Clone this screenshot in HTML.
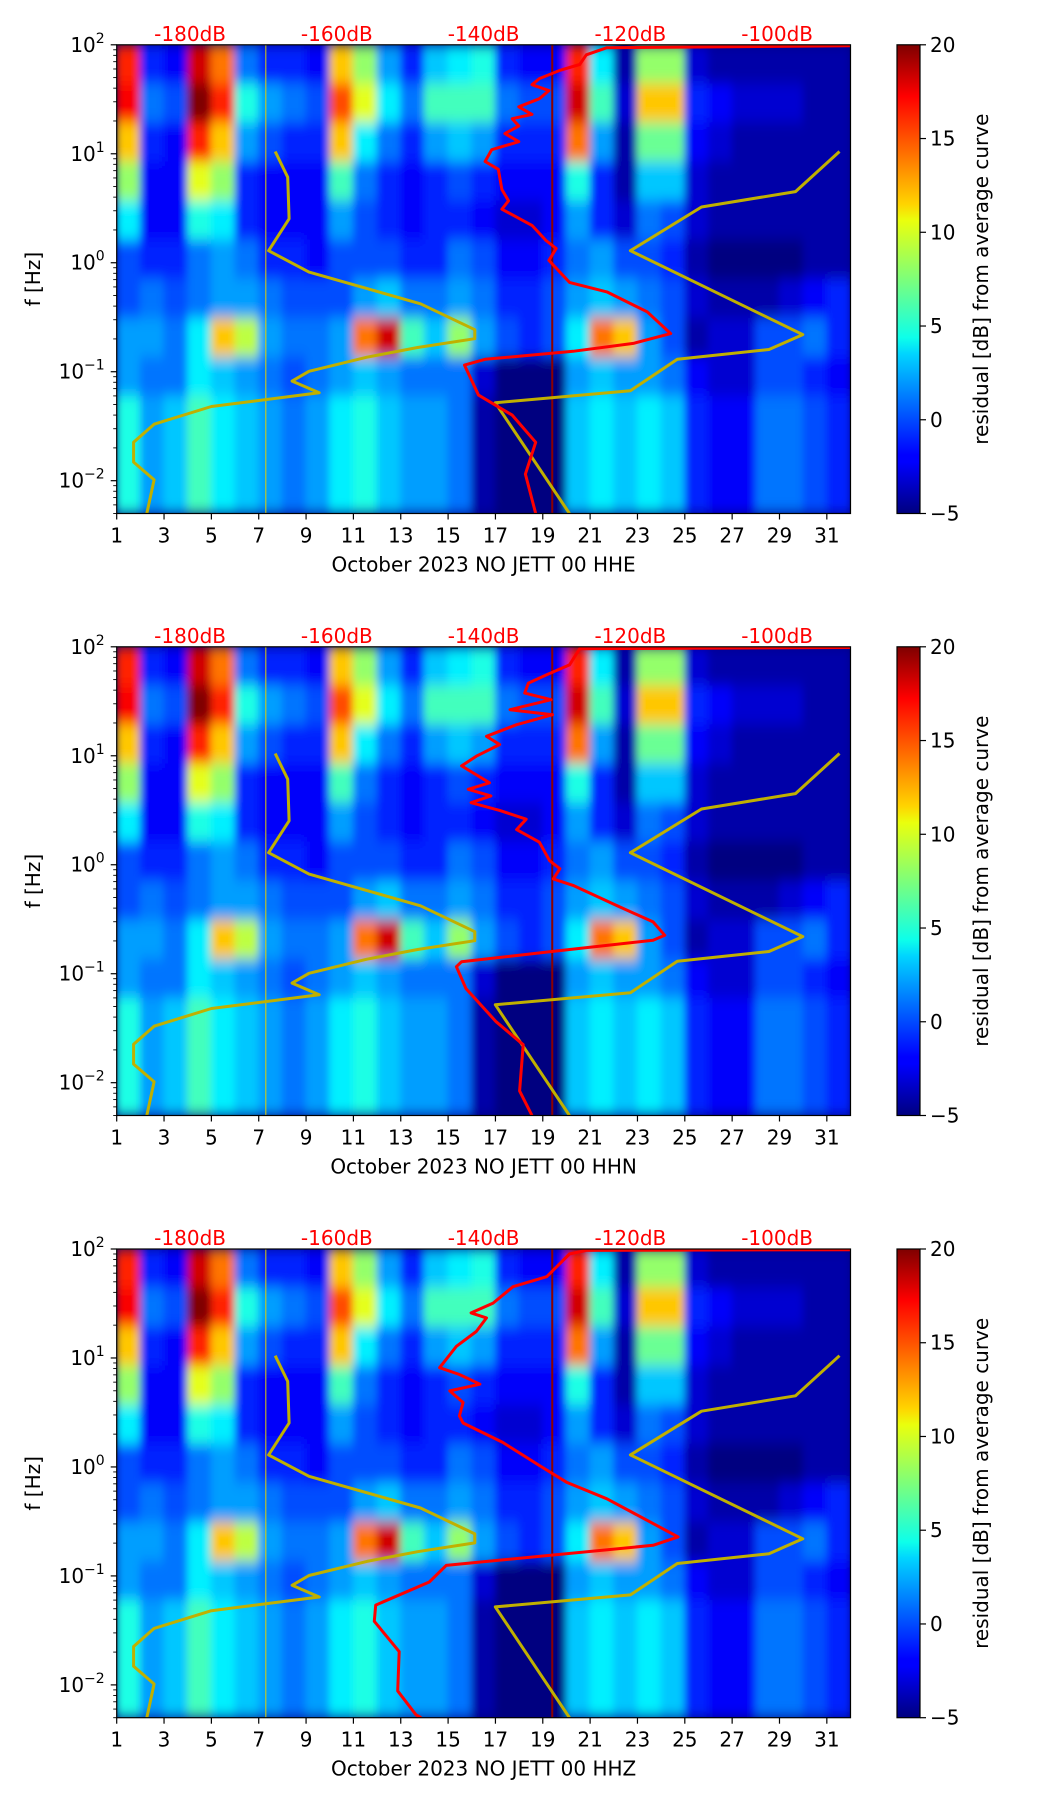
<!DOCTYPE html>
<html><head><meta charset="utf-8">
<style>
html,body{margin:0;padding:0;background:#fff;}
svg{display:block;font-family:"DejaVu Sans","Liberation Sans",sans-serif;}
</style></head>
<body>
<svg id="fig" width="1052" height="1806" viewBox="0 0 1052 1806" xmlns="http://www.w3.org/2000/svg">
<defs>
<linearGradient id="jet" x1="0" y1="1" x2="0" y2="0">
<stop offset="0" stop-color="#00007f"/><stop offset="0.11" stop-color="#0000ff"/><stop offset="0.125" stop-color="#0000ff"/>
<stop offset="0.34" stop-color="#00d4ff"/><stop offset="0.375" stop-color="#0dffea"/><stop offset="0.5" stop-color="#7dff7a"/>
<stop offset="0.625" stop-color="#eaff0d"/><stop offset="0.66" stop-color="#ffd400"/><stop offset="0.89" stop-color="#ff0000"/>
<stop offset="1" stop-color="#7f0000"/>
</linearGradient>
<filter id="blur" x="-5%" y="-5%" width="110%" height="110%"><feGaussianBlur stdDeviation="4 7"/></filter>
</defs>
</svg>
<script>
// ---- data ----
const days=[1,3,5,7,9,11,13,15,17,19,21,23,25,27,29,31];
const dbTicks=[-180,-160,-140,-120,-100];
const cbTicks=[20,15,10,5,0,-5];
const decades=[2,1,0,-1,-2];
const chanNames=["October 2023 NO JETT 00 HHE","October 2023 NO JETT 00 HHN","October 2023 NO JETT 00 HHZ"];
// heatmap: 12 log-frequency bands (100 Hz down to 0.005 Hz) x 31 day columns, residual dB
const heatR0=[16,-1,-2,18,14,1,-1,-1,-2,12,8,2,-1,3,4,5,-1,-2,-2,16,4,-4,8,8,-3,-4,-4,-4,-4,-4,-4];
const heatR1=[17,1,0,20,16,5,2,1,0,15,10,4,1,6,6,6,1,0,0,18,6,-3,12,12,-1,-2,-3,-3,-3,-4,-4];
const heatR2=[12,-1,-2,16,12,2,0,-1,-1,12,4,1,-1,2,3,2,-1,-1,-1,14,2,-4,7,7,-2,-3,-4,-4,-4,-4,-4];
const heatR3=[8,-2,-2,10,8,-1,-2,-2,-2,6,1,-1,-2,-1,0,-1,-2,-2,-2,5,-1,-4,3,3,-3,-4,-4,-4,-4,-4,-4];
const heatR4=[4,-2,-2,5,4,-1,-2,-2,-2,2,0,-1,-2,-1,-1,-2,-3,-3,-2,2,-1,-3,1,0,-3,-4,-4,-4,-4,-4,-4];
const heatR5=[0,-1,-1,1,2,1,-1,-1,-2,0,0,0,-1,-1,1,0,-2,-2,-1,1,2,0,0,-1,-4,-5,-5,-5,-5,-4,-4];
const heatR6=[0,1,0,1,2,2,1,0,0,0,2,3,1,1,2,1,-1,-1,0,2,3,2,1,0,-3,-4,-4,-4,-3,-2,-1];
const heatR7=[2,2,1,4,12,9,2,1,1,2,14,18,6,3,8,2,0,-1,0,4,14,12,2,0,-4,-3,-3,0,0,1,-1];
const heatR8=[2,1,1,4,3,2,1,0,1,2,3,2,1,1,1,-3,-5,-5,-5,2,3,2,2,1,-2,-3,-3,0,0,-1,-2];
const heatR9=[5,2,3,6,4,3,2,1,2,4,5,3,2,2,1,-4,-5,-5,-5,3,4,3,4,3,-1,-2,-2,1,1,0,-1];
const heatR10=[5,2,3,6,4,3,2,1,2,4,5,3,2,2,1,-4,-5,-5,-5,3,4,3,4,3,-1,-2,-2,1,1,0,-1];
const heatR11=[5,2,3,6,4,3,2,1,2,4,5,3,2,2,1,-4,-5,-5,-5,3,4,3,4,3,-1,-2,-2,1,1,0,-1];
const heatRows=[heatR0,heatR1,heatR2,heatR3,heatR4,heatR5,heatR6,heatR7,heatR8,heatR9,heatR10,heatR11];
// red PSD curves (dB, Hz)
const red1Db=[-90,-123.2,-126,-126.9,-129.7,-132.4,-133.4,-131.1,-132.4,-135.2,-133.4,-136.1,-135.2,-137.1,-135.2,-138.9,-139.8,-138,-137.5,-136.6,-137.5,-133.4,-131.5,-130.1,-131.1,-128.3,-123.2,-117.7,-114.5,-119.6,-127.8,-139.8,-142.6,-140.7,-136.1,-132.9,-134.3,-132.9];
const red1F=[98,94,81,66,58,49,43,38,32,27,23,21,18,15.3,12.9,10.9,8.5,7.2,4.7,3.7,3.1,2.2,1.6,1.35,1.05,0.66,0.54,0.355,0.224,0.182,0.154,0.13,0.115,0.061,0.04,0.0225,0.0115,0.005];
const red2Db=[-90,-126.9,-128.3,-131.4,-133.9,-134.4,-130.8,-136.4,-130.6,-135.5,-139.6,-137.8,-141,-143,-139.2,-142.1,-139,-141.7,-137.8,-134.2,-135.5,-132.4,-131,-129.6,-130.5,-127.8,-121.9,-116.9,-115.3,-116.9,-131,-143,-143.7,-142.4,-138.3,-134.6,-135.1,-133.4];
const red2F=[98.5,96,68.2,55.3,46.4,37.6,32.7,26.5,23.8,19.3,15.1,12.7,9.9,8.07,5.65,4.92,4.28,3.71,3.15,2.62,2.1,1.61,1.09,0.92,0.742,0.646,0.424,0.299,0.225,0.203,0.159,0.129,0.116,0.073,0.0363,0.0223,0.0084,0.005];
const red3Db=[-90,-126,-128.3,-131.4,-136,-138.7,-141.7,-139.6,-141,-143.7,-146,-143.3,-140.5,-144.6,-142.8,-143.3,-142.8,-137.4,-132.4,-128.7,-123.2,-113.5,-116.9,-145.1,-147.4,-154.7,-154.9,-151.5,-151.7,-149.2,-148.5];
const red3F=[98.5,97,90,55.7,45.1,31.9,25.9,23.3,17.5,12.8,8.14,7.05,5.75,4.99,3.9,2.94,2.53,1.68,1.03,0.725,0.51,0.228,0.191,0.125,0.088,0.054,0.0383,0.0202,0.0088,0.0053,0.005];
const redDb=[red1Db,red2Db,red3Db];
const redF=[red1F,red2F,red3F];
// yellow noise-model curves (dB, Hz)
const lowDb=[-168.4,-166.7,-166.5,-169.3,-163.8,-148.6,-141.2,-141.2,-149,-155.9,-163.8,-166.1,-162.4,-177.1,-184.9,-187.7,-187.7,-184.9,-185.9];
const lowF=[10.5,6.1,2.53,1.29,0.82,0.42,0.243,0.201,0.167,0.136,0.101,0.082,0.064,0.048,0.033,0.0225,0.0148,0.0102,0.005];
const highDb=[-91.5,-97.5,-110.3,-120,-96.5,-101.1,-113.6,-120,-138.4,-128.3];
const highF=[10.5,4.5,3.25,1.29,0.219,0.16,0.13,0.067,0.052,0.005];
const markDays=[7.3,19.4];

// ---- layout ----
const NS="http://www.w3.org/2000/svg";
const svg=document.getElementById('fig');
const L=116.7,R=850.5,W=R-L,H=468.7,tops=[44.8,646.8,1249];
const CBL=897,CBW=23;
const LOGMAX=2,LOGMIN=Math.log10(0.005);
function el(tag,attrs,parent){const e=document.createElementNS(NS,tag);for(const k in attrs)e.setAttribute(k,attrs[k]);(parent||svg).appendChild(e);return e;}
function xDay(d){return L+(d-1)/31*W;}
function xDb(db){return L+(db+190)/100*W;}
function yF(f,top){return top+(LOGMAX-Math.log10(f))/(LOGMAX-LOGMIN)*H;}
function yLog(lg,top){return top+(LOGMAX-lg)/(LOGMAX-LOGMIN)*H;}
function jet(v){let t=(v+5)/25;t=Math.max(0,Math.min(1,t));
 const c=x=>Math.round(255*Math.max(0,Math.min(1,x)));
 return `rgb(${c(1.5-Math.abs(4*t-3))},${c(1.5-Math.abs(4*t-2))},${c(1.5-Math.abs(4*t-1))})`;}

tops.forEach((top,p)=>{
 const g=el('g',{});
 
 
 const cid='clip'+p;
 const cp=el('clipPath',{id:cid},g);el('rect',{x:L,y:top,width:W,height:H},cp);
 const plot=el('g',{'clip-path':`url(#${cid})`},g);
 
 
 el('rect',{x:L,y:top,width:W,height:H,fill:'#00007f'},plot);
 const hg=el('g',{filter:'url(#blur)'},plot);
 const rh=H/heatRows.length,cw=W/31;
 heatRows.forEach((row,i)=>{row.forEach((v,j)=>{
   const r=el('rect',{x:L+j*cw-0.5,y:top+i*rh-0.5,width:cw+1,height:rh+1,fill:jet(v)},hg);
   
   
 });});
 markDays.forEach((d,i)=>{
   const ln=el('line',{x1:xDay(d),x2:xDay(d),y1:top,y2:top+H,stroke:i?'#8b0000':'#e0d000','stroke-width':i?2:1},plot);
   
   
 });
 const pts=(dbs,fs)=>dbs.map((d,i)=>xDb(d).toFixed(1)+','+yF(fs[i],top).toFixed(1)).join(' ');
 const lo=el('polyline',{points:pts(lowDb,lowF),fill:'none',stroke:'#c0b000','stroke-width':3,'stroke-linejoin':'round'},plot);
 
 
 const hi=el('polyline',{points:pts(highDb,highF),fill:'none',stroke:'#c0b000','stroke-width':3,'stroke-linejoin':'round'},plot);
 
 
 const rd=el('polyline',{points:pts(redDb[p],redF[p]),fill:'none',stroke:'#ff0000','stroke-width':3,'stroke-linejoin':'round'},plot);
 
 
 el('rect',{x:L,y:top,width:W,height:H,fill:'none',stroke:'#000','stroke-width':1.2},g);
 days.forEach(d=>{
   const x=xDay(d);
   el('line',{x1:x,x2:x,y1:top+H,y2:top+H+6,stroke:'#000','stroke-width':1.2},g);
   const t=el('text',{x:x,y:top+H+29,'font-size':20,'text-anchor':'middle',fill:'#000'},g);t.textContent=d;
   
   
 });
 const xl=el('text',{x:(L+R)/2,y:top+H+58,'font-size':20,'text-anchor':'middle',fill:'#000'},g);xl.textContent=chanNames[p];
 
 
 decades.forEach(dc=>{
   const y=yLog(dc,top);
   el('line',{x1:L-6,x2:L,y1:y,y2:y,stroke:'#000','stroke-width':1.2},g);
   const t=el('text',{x:L-12,y:y+7,'font-size':20,'text-anchor':'end',fill:'#000'},g);
   
   
   const a=el('tspan',{},t);a.textContent='10';
   const b=el('tspan',{dy:-9,'font-size':14},t);b.textContent=dc<0?'\u2212'+(-dc):String(dc);
   for(let m=2;m<=9;m++){const lg=dc-1+Math.log10(m);if(lg>=LOGMIN){const ym=yLog(lg,top);el('line',{x1:L-3.5,x2:L,y1:ym,y2:ym,stroke:'#000','stroke-width':0.9},g);}}
 });
 const yl=el('text',{x:0,y:0,'font-size':20,'text-anchor':'middle',fill:'#000',transform:`translate(40,${top+H/2}) rotate(-90)`},g);yl.textContent='f [Hz]';
 
 
 dbTicks.forEach(db=>{
   const t=el('text',{x:xDb(db),y:top-4,'font-size':20,'text-anchor':'middle',fill:'#ff0000'},g);t.textContent=db+'dB';
   
   
 });
 const cb=el('rect',{x:CBL,y:top,width:CBW,height:H,fill:'url(#jet)',stroke:'#000','stroke-width':1.2},g);
 
 
 cbTicks.forEach(v=>{
   const y=top+(20-v)/25*H;
   el('line',{x1:CBL+CBW,x2:CBL+CBW+6,y1:y,y2:y,stroke:'#000','stroke-width':1.2},g);
   const t=el('text',{x:CBL+CBW+10,y:y+7,'font-size':20,fill:'#000'},g);t.textContent=v<0?'\u2212'+(-v):v;
   
   
 });
 const cl=el('text',{x:0,y:0,'font-size':20,'text-anchor':'middle',fill:'#000',transform:`translate(988,${top+H/2}) rotate(-90)`},g);cl.textContent='residual [dB] from average curve';
 
 
});
</script>
</body></html>
